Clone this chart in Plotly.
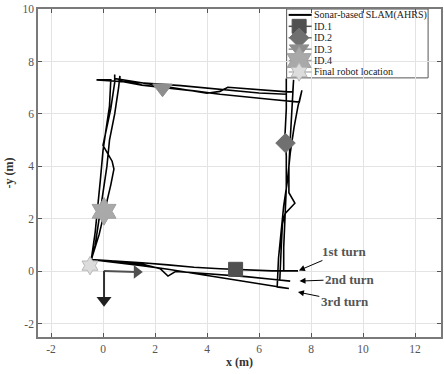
import plotly.graph_objects as go

# ---------------- data ----------------
# SLAM trajectory, three loops (x, -y in metres)
loop1_x = [-0.45, 0.5, 1.5, 2.5, 3.5, 4.5, 5.5, 6.5, 7.5, 6.95,
           6.95, 7.0, 7.05, 7.05, 7.0, 7.05, 7.05, 7.05,
           6.0, 5.0, 4.0, 3.0, 2.0, 1.0, 0.3, -0.25, 0.3,
           0.25, 0.1, 0.0, -0.1, -0.2, -0.3, -0.45]
loop1_y = [0.45, 0.4, 0.33, 0.25, 0.16, 0.1, 0.05, 0.02, 0.02, 0.02,
           0.9, 2.0, 3.2, 4.4, 5.2, 6.2, 7.35, 6.75,
           6.8, 6.9, 7.0, 7.08, 7.15, 7.22, 7.27, 7.3, 7.3,
           6.3, 5.3, 4.6, 3.5, 2.5, 1.5, 0.45]

loop2_x = [0.3, 1.5, 2.2, 2.5, 2.8, 3.5, 4.5, 5.5, 6.5, 7.2, 6.8,
           6.85, 6.9, 7.0, 7.38, 7.15, 7.15, 7.2, 7.25, 7.33, 7.3,
           7.1, 6.0, 4.8, 4.5, 4.0, 3.0, 2.0, 1.0, 0.45, 0.45, 0.45,
           0.3, 0.1, 0.0, 0.35, 0.42, 0.3, 0.1, -0.15, -0.45]
loop2_y = [0.4, 0.28, 0.1, -0.18, 0.0, -0.05, -0.12, -0.2, -0.3, -0.37, -0.33,
           0.8, 1.8, 2.2, 2.6, 3.0, 4.0, 5.0, 6.0, 7.3, 6.84,
           6.84, 6.92, 7.02, 6.86, 6.79, 6.95, 7.1, 7.25, 7.35, 7.5, 7.2,
           6.2, 5.2, 4.8, 4.2, 3.9, 3.3, 2.4, 1.4, 0.45]

loop3_x = [0.5, 1.5, 2.5, 3.5, 4.5, 5.5, 6.5, 7.15, 6.7,
           6.75, 6.85, 6.95, 7.1, 7.2, 7.35, 7.5, 7.65, 7.55,
           6.5, 5.5, 4.5, 3.5, 2.5, 1.5, 0.65, 0.65, 0.6,
           0.45, 0.25, 0.15, 0.0, -0.15, -0.3, -0.5]
loop3_y = [0.35, 0.22, 0.08, -0.08, -0.22, -0.38, -0.55, -0.65, -0.6,
           0.5, 1.5, 2.5, 3.5, 4.5, 5.5, 6.3, 6.9, 6.45,
           6.55, 6.65, 6.75, 6.88, 6.98, 7.1, 7.25, 7.45, 7.0,
           6.0, 5.0, 4.0, 3.0, 2.0, 1.0, 0.22]

traj_x = loop1_x + loop2_x + loop3_x
traj_y = loop1_y + loop2_y + loop3_y

# landmarks
lm_names = ["ID.1", "ID.2", "ID.3", "ID.4", "Final robot location"]
lm_x = [5.1, 7.02, 2.29, 0.04, -0.5]
lm_y = [0.08, 4.89, 6.98, 2.29, 0.22]
lm_symbols = ["square", "diamond", "triangle-down", "hexagram", "hexagram"]
lm_colors = ["#505050", "#707070", "#8e8e8e", "#a9a9a9", "#dcdcdc"]
lm_edges = ["#505050", "#707070", "#8e8e8e", "#a0a0a0", "#b8b8b8"]
lm_sizes = [14, 15, 17, 21, 14]

# robot start frame
frame_origin = (0.04, 0.02)
frame_x_tip = (1.3, -0.02)
frame_y_tip = (0.04, -1.1)

# turn annotations
turn_labels = ["1st turn", "2nd turn", "3rd turn"]
turn_px = [7.5, 7.52, 7.46]
turn_py = [0.02, -0.37, -0.78]
turn_tx = [9.25, 9.5, 9.3]
turn_ty = [0.76, -0.3, -1.15]

legend_labels = ["Sonar-based SLAM(AHRS)"] + lm_names

x_ticks = [-2, 0, 2, 4, 6, 8, 10, 12]
y_ticks = [-2, 0, 2, 4, 6, 8, 10]
x_ticktext = [str(v) for v in x_ticks]
y_ticktext = [str(v) for v in y_ticks]

FONT = "Liberation Serif, Times New Roman, serif"

fig = go.Figure()

fig.add_trace(go.Scatter(x=traj_x, y=traj_y, mode="lines",
                         line=dict(color="black", width=1.6),
                         showlegend=False, hoverinfo="skip"))

# robot frame
fig.add_trace(go.Scatter(x=[frame_origin[0], frame_x_tip[0]],
                         y=[frame_origin[1], frame_x_tip[1]],
                         mode="lines", line=dict(color="#505050", width=2),
                         showlegend=False))
fig.add_trace(go.Scatter(x=[frame_origin[0], frame_y_tip[0]],
                         y=[frame_origin[1], frame_y_tip[1]],
                         mode="lines", line=dict(color="#303030", width=2),
                         showlegend=False))
fig.add_trace(go.Scatter(x=[frame_x_tip[0]], y=[frame_x_tip[1]], mode="markers",
                         marker=dict(symbol="triangle-right", size=12, color="#505050"),
                         showlegend=False))
fig.add_trace(go.Scatter(x=[frame_y_tip[0]], y=[frame_y_tip[1]], mode="markers",
                         marker=dict(symbol="triangle-down", size=13, color="#202020"),
                         showlegend=False))

for i in range(len(lm_names)):
    fig.add_trace(go.Scatter(x=[lm_x[i]], y=[lm_y[i]], mode="markers",
                             marker=dict(symbol=lm_symbols[i], size=lm_sizes[i],
                                         color=lm_colors[i],
                                         line=dict(color=lm_edges[i], width=1)),
                             showlegend=False))

# ---------- custom compact legend on an overlay axis (0..1 paper-like) ----------
leg_left, leg_right, leg_top, leg_bottom = 0.617, 0.968, 1.0, 0.79
row0, row_h = 0.982, 0.0348
samp_x0, samp_x1, samp_xm, text_x = 0.622, 0.679, 0.648, 0.679
for i, lab in enumerate(legend_labels):
    yy = row0 - i * row_h
    col = "black" if i == 0 else lm_colors[i - 1]
    edge = "black" if i == 0 else lm_edges[i - 1]
    fig.add_trace(go.Scatter(x=[samp_x0, samp_x1], y=[yy, yy], mode="lines",
                             line=dict(color=edge, width=2 if i == 0 else 1.5),
                             xaxis="x2", yaxis="y2", showlegend=False, hoverinfo="skip"))
    if i > 0:
        fig.add_trace(go.Scatter(x=[samp_xm], y=[yy], mode="markers",
                                 marker=dict(symbol=lm_symbols[i - 1], size=lm_sizes[i - 1],
                                             color=col, line=dict(color=edge, width=1)),
                                 xaxis="x2", yaxis="y2", showlegend=False, hoverinfo="skip"))
    fig.add_annotation(x=text_x, y=yy, xref="x2", yref="y2", text=lab,
                       showarrow=False, xanchor="left", yanchor="middle",
                       font=dict(family=FONT, size=10, color="#1a1a1a"))
fig.add_shape(type="rect", xref="paper", yref="paper",
              x0=leg_left, x1=leg_right, y0=leg_bottom, y1=leg_top,
              line=dict(color="#555555", width=1), fillcolor="white", layer="below")

for lab, px, py, tx, ty in zip(turn_labels, turn_px, turn_py, turn_tx, turn_ty):
    fig.add_annotation(x=px, y=py, ax=tx, ay=ty, axref="x", ayref="y",
                       text="<b>%s</b>" % lab, showarrow=True,
                       arrowhead=2, arrowsize=1.2, arrowwidth=1, arrowcolor="black",
                       standoff=1, font=dict(family=FONT, size=13, color="#555555"))

axis_common = dict(showgrid=True, gridcolor="#e3e3e3", gridwidth=1,
                   zeroline=False, showline=True, linecolor="#7a7a7a", linewidth=1.5,
                   mirror="ticks", ticks="inside", ticklen=4, tickcolor="#555555",
                   tickfont=dict(family=FONT, size=11.5, color="#555555"))

fig.update_layout(
    width=444, height=374,
    margin=dict(l=38, r=1, t=9, b=37),
    paper_bgcolor="white", plot_bgcolor="white",
    showlegend=False,
    xaxis=dict(range=[-2.5, 13], tickvals=x_ticks, ticktext=x_ticktext,
               title=dict(text="<b>x (m)</b>", standoff=4,
                          font=dict(family=FONT, size=12, color="#333333")),
               **axis_common),
    yaxis=dict(range=[-2.5, 10], tickvals=y_ticks, ticktext=y_ticktext,
               title=dict(text="<b>-y (m)</b>", standoff=6,
                          font=dict(family=FONT, size=12, color="#333333")),
               **axis_common),
    xaxis2=dict(range=[0, 1], overlaying="x", visible=False, fixedrange=True),
    yaxis2=dict(range=[0, 1], overlaying="y", visible=False, fixedrange=True),
)

fig.write_html("out.html")
